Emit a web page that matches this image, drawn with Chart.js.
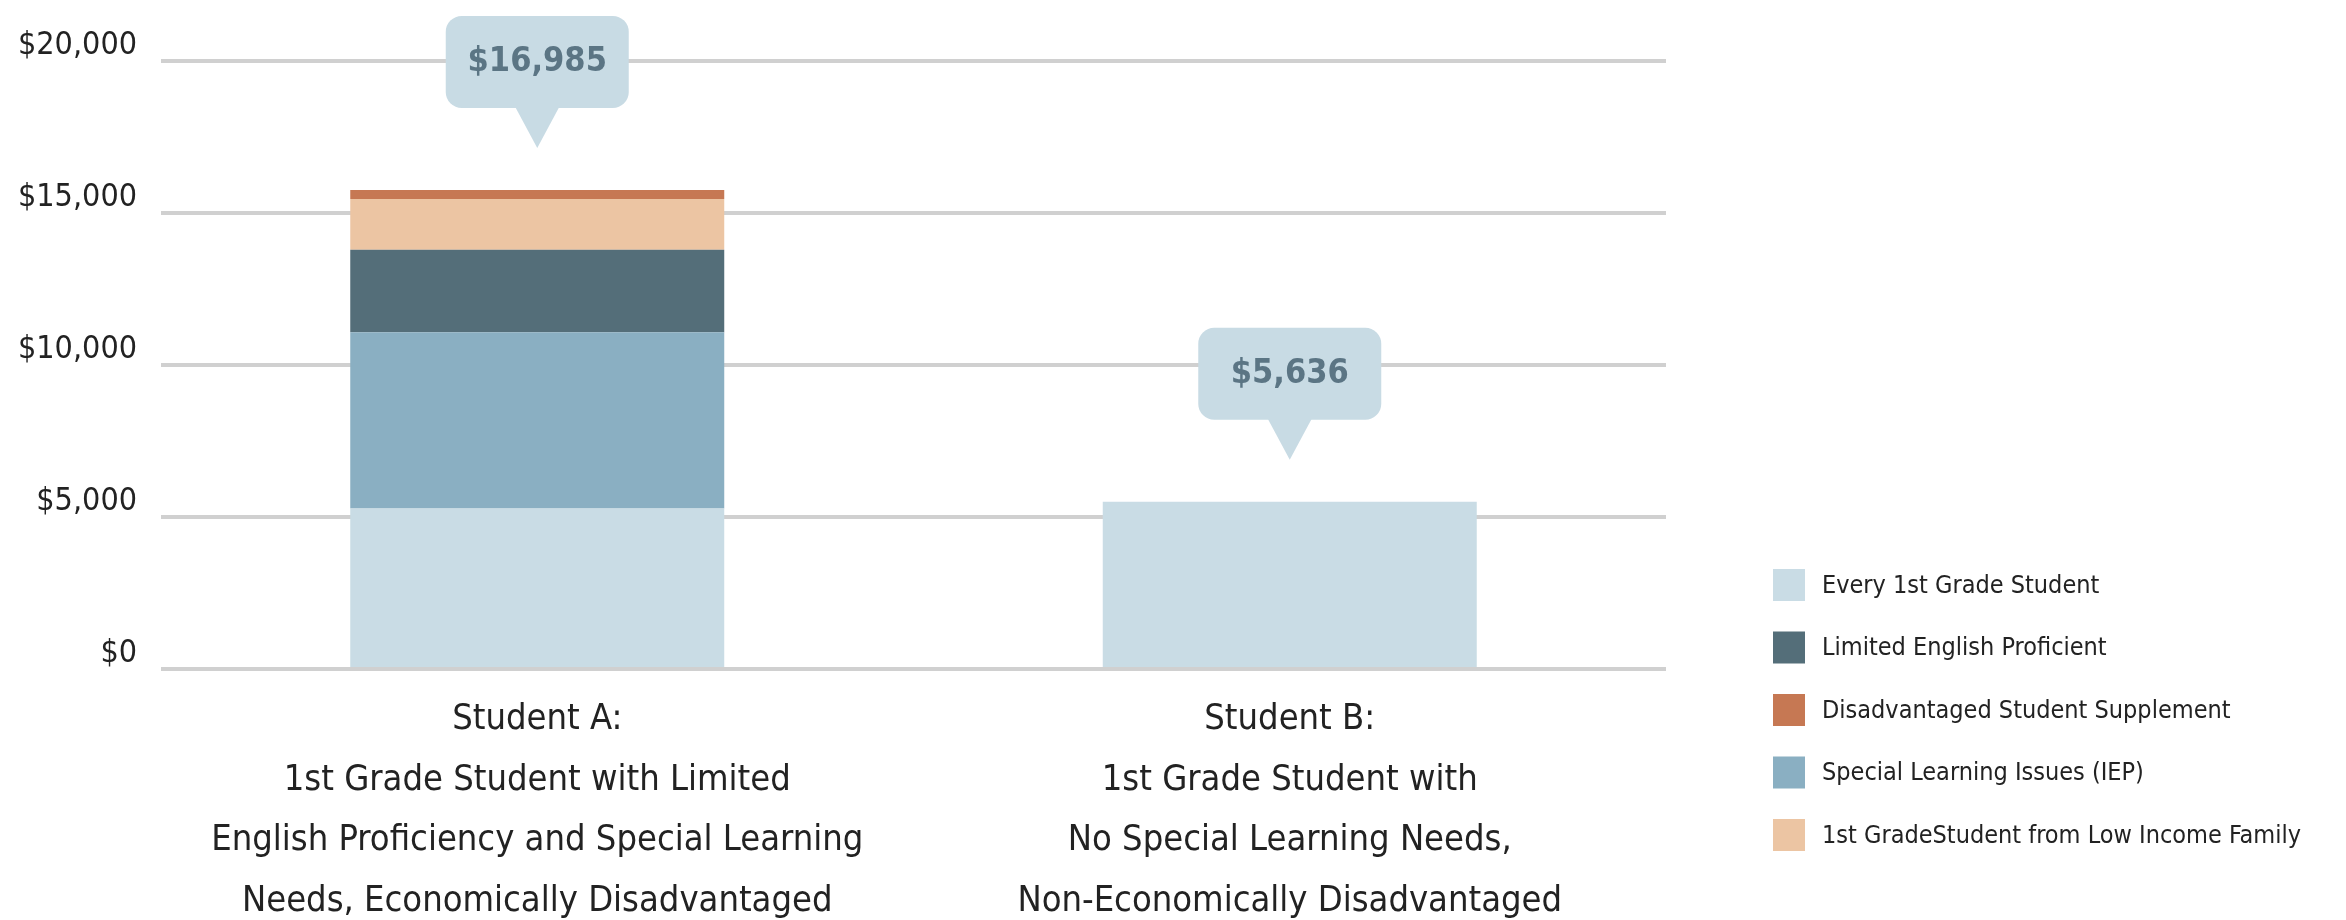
<!DOCTYPE html>
<html>
<head>
<meta charset="utf-8">
<script src="https://cdn.jsdelivr.net/npm/chart.js@4.4.1/dist/chart.umd.min.js"></script>
<style>
  html, body { margin: 0; padding: 0; background: #ffffff; }
  #wrap { width: 2346px; height: 920px; position: relative; }
</style>
</head>
<body>
<div id="wrap"><canvas id="c" width="2346" height="920"></canvas></div>
<script>
const FONT = "'Liberation Sans Narrow','Arial Narrow','DejaVu Sans Condensed',sans-serif";

// ---- data ----
const categories = [
  ["Student A:", "1st Grade Student with Limited", "English Proficiency and Special Learning", "Needs, Economically Disadvantaged"],
  ["Student B:", "1st Grade Student with", "No Special Learning Needs,", "Non-Economically Disadvantaged"]
];
const everyStudent    = [5280, 5500];
const specialLearning = [5800, 0];
const limitedEnglish  = [2710, 0];
const lowIncome       = [1670, 0];
const disadvantaged   = [300, 0];
const totalLabels     = [16985, 5636];
const yTickValues     = [0, 5000, 10000, 15000, 20000];
const legendOrder = [
  "Every 1st Grade Student",
  "Limited English Proficient",
  "Disadvantaged Student Supplement",
  "Special Learning Issues (IEP)",
  "1st GradeStudent from Low Income Family"
];

const fmt = v => '$' + Number(v).toLocaleString('en-US');

const calloutPlugin = {
  id: 'callouts',
  afterDatasetsDraw(chart) {
    const ctx = chart.ctx, xs = chart.scales.x, ys = chart.scales.y;
    categories.forEach((c, i) => {
      const total = chart.data.datasets.reduce((s, d) => s + (d.data[i] || 0), 0);
      const cx = xs.getPixelForValue(i);
      const tipY = ys.getPixelForValue(total) - 42;
      const w = 183, h = 92, r = 16, tw = 44, th = 40;
      const bottom = tipY - th, top = bottom - h, left = cx - w / 2;
      ctx.save();
      ctx.fillStyle = '#c8dbe4';
      ctx.beginPath();
      ctx.roundRect(left, top, w, h, r);
      ctx.fill();
      ctx.beginPath();
      ctx.moveTo(cx - tw / 2, bottom - 1);
      ctx.lineTo(cx + tw / 2, bottom - 1);
      ctx.lineTo(cx, tipY);
      ctx.closePath();
      ctx.fill();
      ctx.fillStyle = '#5b7584';
      ctx.font = 'bold 34px ' + FONT;
      ctx.textAlign = 'center';
      ctx.textBaseline = 'middle';
      ctx.fillText(fmt(totalLabels[i]), cx, top + h / 2);
      ctx.restore();
    });
  }
};

const legendPlugin = {
  id: 'sideLegend',
  afterDraw(chart) {
    const ctx = chart.ctx;
    const x0 = chart.chartArea.right + 107;
    ctx.save();
    legendOrder.forEach((label, k) => {
      const ds = chart.data.datasets.find(d => d.label === label);
      const cy = 585 + k * 62.5;
      ctx.fillStyle = ds.backgroundColor;
      ctx.fillRect(x0, cy - 16, 32, 32);
      ctx.fillStyle = '#222222';
      ctx.font = '25px ' + FONT;
      ctx.textAlign = 'left';
      ctx.textBaseline = 'middle';
      ctx.fillText(label, x0 + 49, cy + 1);
    });
    ctx.restore();
  }
};

new Chart(document.getElementById('c'), {
  type: 'bar',
  data: {
    labels: categories,
    datasets: [
      { label: 'Every 1st Grade Student', data: everyStudent, backgroundColor: '#c9dce5' },
      { label: 'Special Learning Issues (IEP)', data: specialLearning, backgroundColor: '#8aafc2' },
      { label: 'Limited English Proficient', data: limitedEnglish, backgroundColor: '#546e79' },
      { label: '1st GradeStudent from Low Income Family', data: lowIncome, backgroundColor: '#ecc5a3' },
      { label: 'Disadvantaged Student Supplement', data: disadvantaged, backgroundColor: '#c67853' }
    ]
  },
  options: {
    responsive: false,
    animation: false,
    devicePixelRatio: 1,
    layout: { padding: { top: 61, right: 680, bottom: 0, left: 0 } },
    datasets: { bar: { barPercentage: 0.497, categoryPercentage: 1, borderWidth: 0 } },
    plugins: { legend: { display: false }, tooltip: { enabled: false } },
    scales: {
      x: {
        stacked: true,
        grid: { display: false, drawTicks: false },
        border: { display: false },
        ticks: {
          color: '#222222', padding: 20, maxRotation: 0, autoSkip: false,
          font: { family: FONT, size: 36, lineHeight: 1.69 }
        },
        afterFit(s) { s.height = 251; }
      },
      y: {
        stacked: true,
        min: yTickValues[0],
        max: yTickValues[yTickValues.length - 1],
        afterBuildTicks(s) { s.ticks = yTickValues.map(v => ({ value: v })); },
        grid: { color: '#d0d0d0', lineWidth: 4, drawTicks: false },
        border: { display: false },
        ticks: {
          color: '#222222', padding: 24, labelOffset: -15,
          font: { family: FONT, size: 32 },
          callback: v => fmt(v)
        },
        afterFit(s) { s.width = 161; }
      }
    }
  },
  plugins: [calloutPlugin, legendPlugin]
});
</script>
</body>
</html>
